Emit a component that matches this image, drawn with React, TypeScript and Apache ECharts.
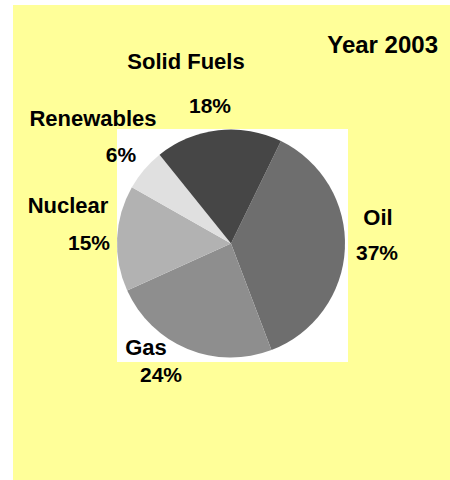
import React, { useEffect, useRef } from "react";
import * as echarts from "echarts";

const categories = ["Oil", "Gas", "Nuclear", "Renewables", "Solid Fuels"];
const shares = [37, 24, 15, 6, 18];
const sliceColors = ["#6e6e6e", "#8e8e8e", "#b2b2b2", "#e0e0e0", "#464646"];
const titleText = "Year 2003";

// label anchor points (layout only)
const namePos: Record<string, [number, number]> = {
  Oil: [378, 217],
  Gas: [146, 347],
  Nuclear: [68, 205],
  Renewables: [93, 118],
  "Solid Fuels": [186, 61],
};
const pctPos: Record<string, [number, number]> = {
  Oil: [377, 252],
  Gas: [161, 374],
  Nuclear: [89, 242],
  Renewables: [121, 154],
  "Solid Fuels": [210, 105],
};

const FONT = "'Liberation Sans', Arial, sans-serif";

export default function App() {
  const ref = useRef<HTMLDivElement>(null);
  useEffect(() => {
    document.body.style.margin = "0";
    const chart = echarts.init(ref.current!, null, { renderer: "svg" });
    const data = categories.map((c, i) => ({
      name: c,
      value: shares[i],
      itemStyle: { color: sliceColors[i] },
    }));
    const base = {
      type: "pie" as const,
      center: [231, 243.5],
      radius: 114,
      startAngle: 64,
      clockwise: true,
      silent: true,
      labelLine: { show: false },
      emphasis: { disabled: true },
    };
    chart.setOption({
      animation: false,
      backgroundColor: "#ffffff",
      graphic: [
        {
          type: "rect",
          shape: { x: 13, y: 5, width: 437, height: 475 },
          style: { fill: "#ffff99" },
          z: -10,
          silent: true,
        },
        {
          type: "rect",
          shape: { x: 117, y: 129, width: 231, height: 233 },
          style: { fill: "#ffffff" },
          z: -9,
          silent: true,
        },
      ],
      title: {
        text: titleText,
        right: 7,
        top: 27,
        textStyle: { fontFamily: FONT, fontSize: 24, fontWeight: "bold", color: "#000" },
      },
      series: [
        {
          ...base,
          data,
          itemStyle: { borderWidth: 0 },
          label: {
            show: true,
            position: "outside",
            formatter: "{b}",
            overflow: "none",
            fontFamily: FONT,
            fontSize: 22,
            fontWeight: "bold",
            color: "#000",
          },
          labelLayout: (p: any) => {
            const pos = namePos[categories[p.dataIndex]];
            return { x: pos[0], y: pos[1], align: "center", verticalAlign: "middle" };
          },
        },
        {
          ...base,
          data: categories.map((c, i) => ({ name: c, value: shares[i] })),
          itemStyle: { color: "rgba(0,0,0,0)", borderWidth: 0 },
          label: {
            show: true,
            position: "outside",
            formatter: "{c}%",
            overflow: "none",
            fontFamily: FONT,
            fontSize: 21,
            fontWeight: "bold",
            color: "#000",
          },
          labelLayout: (p: any) => {
            const pos = pctPos[categories[p.dataIndex]];
            return { x: pos[0], y: pos[1], align: "center", verticalAlign: "middle" };
          },
        },
      ],
    });
    return () => chart.dispose();
  }, []);
  return <div ref={ref} style={{ width: 450, height: 480 }} />;
}
